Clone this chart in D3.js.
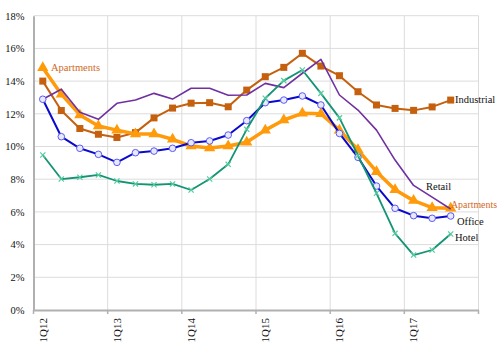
<!DOCTYPE html>
<html><head><meta charset="utf-8">
<script src="https://cdn.jsdelivr.net/npm/d3@7"></script>
<style>body{margin:0;background:#fff}svg{display:block}text{font-family:"Liberation Serif","Times New Roman",serif}</style>
</head><body><svg id="c" width="500" height="350"></svg>
<script>
const quarters = ["1Q12","2Q12","3Q12","4Q12","1Q13","2Q13","3Q13","4Q13","1Q14","2Q14","3Q14","4Q14","1Q15","2Q15","3Q15","4Q15","1Q16","2Q16","3Q16","4Q16","1Q17","2Q17","3Q17","4Q17"];
const xTickLabels = ["1Q12","1Q13","1Q14","1Q15","1Q16","1Q17"];
const yTicks = [0,2,4,6,8,10,12,14,16,18];
const industrial = [14.0,12.2,11.1,10.75,10.55,10.85,11.75,12.35,12.65,12.68,12.43,13.45,14.27,14.84,15.7,14.92,14.33,13.35,12.54,12.33,12.21,12.42,12.84];
const apartments = [14.82,13.2,11.93,11.25,11.0,10.76,10.76,10.44,10.03,9.91,10.03,10.26,11.0,11.62,12.03,12.0,11.0,9.8,8.46,7.35,6.69,6.26,6.22];
const office = [12.89,10.6,9.89,9.52,9.03,9.62,9.72,9.89,10.23,10.34,10.7,11.58,12.68,12.84,13.09,12.54,10.8,9.34,7.58,6.22,5.77,5.61,5.75];
const hotel = [9.48,8.01,8.12,8.26,7.89,7.71,7.66,7.71,7.34,8.01,8.91,11.05,12.95,14.03,14.68,13.25,11.75,9.45,7.14,4.69,3.36,3.67,4.65];
const retail = [12.89,13.5,12.09,11.66,12.64,12.84,13.25,12.9,13.56,13.56,13.13,13.15,13.86,13.6,14.48,15.33,13.15,12.23,11.0,9.17,7.62,6.9,6.18];

const svg = d3.select("#c");
const L = 33.5, R = 478.5, T = 15.7, B = 310;
const x = d3.scaleBand().domain(quarters).range([L, R]).padding(0);
const y = d3.scaleLinear().domain([0, 18]).range([B, T]);
const cx = q => x(q) + x.bandwidth() / 2;

// grid
const g = svg.append("g");
g.selectAll("line.h").data(yTicks.filter(d => d > 0)).join("line")
  .attr("x1", L).attr("x2", R).attr("y1", d => y(d)).attr("y2", d => y(d))
  .attr("stroke", "#dcdcdc").attr("stroke-width", 1);
const yearBounds = d3.range(4, 25, 4).map(i => L + i * x.bandwidth());
g.selectAll("line.v").data(yearBounds).join("line")
  .attr("x1", d => d).attr("x2", d => d).attr("y1", T).attr("y2", B)
  .attr("stroke", "#dcdcdc").attr("stroke-width", 1);

// axes
const yAxis = d3.axisLeft(y).tickValues(yTicks).tickSize(0).tickPadding(9).tickFormat(d => d + "%");
const ya = svg.append("g").attr("transform", `translate(${L},0)`).call(yAxis);
ya.select(".domain").attr("stroke", "#b0b0b0").attr("stroke-width", 2);
ya.selectAll("text").attr("font-size", 10.5).attr("fill", "#111");

const xAxis = d3.axisBottom(x).tickValues(xTickLabels).tickSize(0).tickFormat(d => d);
const xa = svg.append("g").attr("transform", `translate(0,${B})`).call(xAxis);
xa.select(".domain").attr("stroke", "#b0b0b0").attr("stroke-width", 2);
xa.selectAll("text").attr("font-size", 11).attr("fill", "#111")
  .attr("transform", "rotate(-90)").attr("text-anchor", "end")
  .attr("x", -8).attr("y", 0).attr("dy", "0.35em");
svg.append("g").selectAll("line").data([L, ...yearBounds]).join("line")
  .attr("x1", d => d).attr("x2", d => d).attr("y1", B).attr("y2", B + 4)
  .attr("stroke", "#b0b0b0").attr("stroke-width", 1.5);

const line = d3.line().x((d, i) => cx(quarters[i])).y(d => y(d));
function drawLine(data, color, w) {
  svg.append("path").datum(data).attr("d", line).attr("fill", "none")
    .attr("stroke", color).attr("stroke-width", w).attr("stroke-linejoin", "round");
}

// Industrial
drawLine(industrial, "#C4600E", 2);
svg.append("g").selectAll("rect").data(industrial).join("rect")
  .attr("x", (d, i) => cx(quarters[i]) - 3.5).attr("y", d => y(d) - 3.5)
  .attr("width", 7).attr("height", 7).attr("fill", "#C4600E");

// Apartments
drawLine(apartments, "#FF9A0A", 3.5);
const tri = d3.symbol().type(d3.symbolTriangle).size(55);
svg.append("g").selectAll("path").data(apartments).join("path")
  .attr("d", tri).attr("transform", (d, i) => `translate(${cx(quarters[i])},${y(d)})`)
  .attr("fill", "#FF9A0A");

// Retail
drawLine(retail, "#7030A0", 1.6);

// Office
drawLine(office, "#0A0ACC", 2);
svg.append("g").selectAll("circle").data(office).join("circle")
  .attr("cx", (d, i) => cx(quarters[i])).attr("cy", d => y(d)).attr("r", 3.3)
  .attr("fill", "#e8e8ff").attr("stroke", "#5a5af0").attr("stroke-width", 1);

// Hotel
drawLine(hotel, "#139474", 1.8);
const hm = svg.append("g").selectAll("g").data(hotel).join("g")
  .attr("transform", (d, i) => `translate(${cx(quarters[i])},${y(d)})`)
  .attr("stroke", "#55cc9f").attr("stroke-width", 1.2);
hm.append("line").attr("x1", -2.6).attr("y1", -2.6).attr("x2", 2.6).attr("y2", 2.6);
hm.append("line").attr("x1", -2.6).attr("y1", 2.6).attr("x2", 2.6).attr("y2", -2.6);

// labels
const lab = svg.append("g").attr("font-size", 10.5);
lab.append("text").attr("x", 51).attr("y", 71).attr("fill", "#D2691E").text("Apartments");
lab.append("text").attr("x", 455).attr("y", 103).attr("fill", "#111").text("Industrial");
lab.append("text").attr("x", 426).attr("y", 189.5).attr("fill", "#111").text("Retail");
lab.append("text").attr("x", 451).attr("y", 208).attr("fill", "#D2691E").attr("textLength", 46).attr("lengthAdjust", "spacingAndGlyphs").text("Apartments");
lab.append("text").attr("x", 457).attr("y", 224.5).attr("fill", "#111").text("Office");
lab.append("text").attr("x", 455).attr("y", 241).attr("fill", "#111").text("Hotel");
</script></body></html>
